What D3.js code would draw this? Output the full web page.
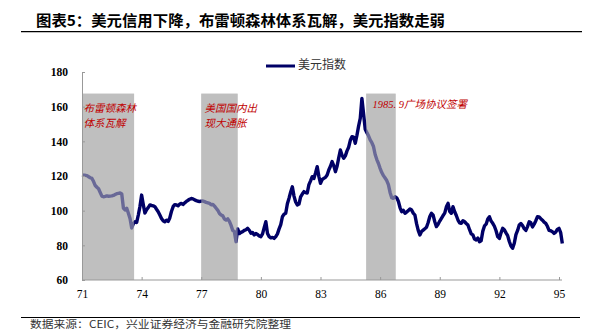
<!DOCTYPE html>
<html><head><meta charset="utf-8">
<script src="https://cdn.jsdelivr.net/npm/d3@7"></script>
<style>
html,body{margin:0;padding:0;background:#fff;}
svg{display:block;}
</style></head>
<body>
<svg id="c" width="613" height="333"></svg>
<script>
// ---- data ----
const title = "图表5：美元信用下降，布雷顿森林体系瓦解，美元指数走弱";
const source = "数据来源：CEIC，兴业证券经济与金融研究院整理";
const seriesName = "美元指数";
const years = [1971,1972,1973,1974,1975,1976,1977,1978,1979,1980,1981,1982,1983,1984,1985,1986,1987,1988,1989,1990,1991,1992,1993,1994,1995];
// monthly values, one row per year
const dxy = [
  [120.6,120.5,120.4,120.2,119.6,119.0,118.6,116.8,114.5,113.5,112.6,110.5],
  [108.4,108.0,108.2,108.5,108.3,108.4,108.5,108.8,109.3,109.8,110.0,110.2],
  [109.6,101.5,100.4,101.4,98.5,95.5,90.0,92.5,93.6,93.2,97.5,102.5],
  [109.0,103.5,98.6,100.5,101.8,103.3,103.0,102.8,102.3,100.8,99.4,97.5],
  [95.5,94.2,93.6,94.5,93.8,95.8,99.5,102.3,103.5,103.3,102.8,103.8],
  [104.2,103.6,104.5,105.3,106.0,106.6,107.0,106.8,106.2,105.8,105.4,105.3],
  [105.5,105.6,105.2,104.8,104.5,104.2,103.4,103.6,102.6,101.4,100.2,98.4],
  [97.5,97.0,95.2,94.6,95.3,93.8,91.5,88.6,87.9,82.1,89.5,86.8],
  [87.5,87.9,88.6,89.0,89.8,88.7,87.0,87.4,86.0,86.8,86.3,85.4],
  [85.0,86.6,90.2,93.6,86.8,85.0,84.3,84.6,84.0,85.0,86.6,89.5],
  [92.0,96.5,98.0,98.5,104.0,107.2,110.8,113.8,108.4,105.0,103.3,103.8],
  [108.0,109.6,111.0,110.4,110.2,115.0,117.2,119.6,118.6,121.8,125.4,119.8],
  [115.8,118.0,118.6,119.2,120.6,123.5,125.6,128.3,126.0,122.5,125.6,130.5],
  [135.0,132.0,130.2,131.6,134.5,136.6,140.6,142.7,142.4,138.9,143.5,148.8],
  [153.3,164.8,156.0,147.0,145.0,143.2,140.8,139.2,137.0,132.4,129.5,127.2],
  [124.4,122.0,120.2,118.8,117.4,115.0,110.5,107.5,107.1,108.0,107.4,105.4],
  [101.8,99.4,100.2,98.5,99.2,100.0,101.0,100.4,98.6,97.5,92.5,88.6],
  [86.0,88.0,88.8,89.6,90.4,93.2,96.6,98.5,97.4,93.6,90.8,92.2],
  [94.0,95.6,97.2,98.6,102.2,104.2,99.6,98.5,102.3,99.4,97.2,94.6],
  [93.0,92.7,94.2,93.6,92.6,91.7,89.0,86.6,86.0,83.6,83.1,84.2],
  [82.1,82.6,88.2,91.2,92.2,95.2,96.5,94.0,92.7,91.0,88.4,85.0],
  [84.0,87.2,89.8,89.0,87.2,85.6,82.2,79.6,78.3,81.2,86.2,88.6],
  [91.7,92.6,91.4,89.6,88.6,90.8,93.6,93.0,90.6,92.2,94.2,96.5],
  [96.4,95.4,94.5,93.4,92.7,91.0,88.6,88.4,87.9,86.9,87.6,89.2],
  [89.8,87.4,81.1]
];
const shadeStart = [1971.0, 1977.0, 1985.3];
const shadeEnd   = [1973.62, 1978.83, 1986.78];
const shadeTop = 167.5;
const noteLines = [["布雷顿森林","体系瓦解"],["美国国内出","现大通胀"],["1985. 9广场协议签署"]];
const xTickValues = [1971,1974,1977,1980,1983,1986,1989,1992,1995];
const xTickLabels = ["71","74","77","80","83","86","89","92","95"];
const yTickValues = [60,80,100,120,140,160,180];

// ---- build ----
const points = [];
years.forEach((yr, i) => dxy[i].forEach((v, m) => points.push({t: yr + m/12, v})));

const svg = d3.select("#c");
const x = d3.scaleLinear().domain([1971, 1995]).range([82, 559]);
const y = d3.scaleLinear().domain([60, 180]).range([280, 72]);

// title
svg.append("text").attr("x", 36).attr("y", 25.5)
  .attr("font-family", "'Noto Sans CJK SC'").attr("font-weight", "bold")
  .attr("font-size", 15).attr("fill", "#000")
  .attr("textLength", 409).attr("lengthAdjust", "spacingAndGlyphs").text(title);
svg.append("line").attr("x1", 21).attr("x2", 582).attr("y1", 31.7).attr("y2", 31.7)
  .attr("stroke", "#000").attr("stroke-width", 1.3);

// shades (base)
const shades = shadeStart.map((s, i) => ({s, e: shadeEnd[i]}));
svg.append("g").selectAll("rect").data(shades).join("rect")
  .attr("x", d => x(d.s)).attr("width", d => x(d.e) - x(d.s))
  .attr("y", y(shadeTop)).attr("height", y(60) - y(shadeTop))
  .attr("fill", "#bfbfbf");

// line
const line = d3.line().x(d => x(d.t)).y(d => y(d.v)).curve(d3.curveLinear);
svg.append("path").datum(points).attr("d", line)
  .attr("fill", "none").attr("stroke", "#000066").attr("stroke-width", 3.4)
  .attr("stroke-linejoin", "round");

// shades overlay (makes line pale inside)
svg.append("g").selectAll("rect").data(shades).join("rect")
  .attr("x", d => x(d.s)).attr("width", d => x(d.e) - x(d.s))
  .attr("y", y(shadeTop)).attr("height", y(60) - y(shadeTop))
  .attr("fill", "#bfbfbf").attr("opacity", 0.55);

// axes
const yAxis = d3.axisLeft(y).tickValues(yTickValues).tickSizeInner(-3).tickSizeOuter(0).tickPadding(14);
const gy = svg.append("g").attr("transform", "translate(82,0)").call(yAxis);
gy.selectAll("text").attr("font-family", "'Liberation Serif'").attr("font-weight", "bold")
  .attr("font-size", 11.5).attr("fill", "#000");
const xAxis = d3.axisBottom(x).tickValues(xTickValues).tickFormat((d, i) => xTickLabels[i])
  .tickSizeInner(-3).tickSizeOuter(0).tickPadding(10);
const gx = svg.append("g").attr("transform", "translate(0,280)").call(xAxis);
gx.selectAll("text").attr("font-family", "'Liberation Serif'").attr("font-size", 11.5).attr("fill", "#000");
gx.select(".domain").attr("d", "M82,0H562");
[gx, gy].forEach(g => { g.selectAll("line,path").attr("stroke", "#999").attr("stroke-width", 1); });

// annotations
const notePos = [[83.5, 109.5], [204.5, 109.5], [372.5, 105.5]];
noteLines.forEach((lines, i) => {
  const t = svg.append("text").attr("x", notePos[i][0]).attr("y", notePos[i][1])
    .attr("font-family", "'Liberation Serif','Noto Sans CJK SC'").attr("font-style", "italic")
    .attr("font-size", 10.5).attr("fill", "#c00000").attr("dominant-baseline", "middle");
  lines.forEach((l, j) => t.append("tspan").attr("x", notePos[i][0]).attr("dy", j === 0 ? 0 : 15).text(l));
});

// legend
svg.append("line").attr("x1", 266).attr("x2", 295).attr("y1", 66).attr("y2", 66)
  .attr("stroke", "#000066").attr("stroke-width", 3);
svg.append("text").attr("x", 298).attr("y", 66).attr("dominant-baseline", "middle")
  .attr("font-family", "'Noto Sans CJK SC'").attr("font-size", 12).attr("fill", "#333").text(seriesName);

// footer
svg.append("line").attr("x1", 21).attr("x2", 580).attr("y1", 317.5).attr("y2", 317.5)
  .attr("stroke", "#000").attr("stroke-width", 1.2);
svg.append("text").attr("x", 30).attr("y", 325.5).attr("dominant-baseline", "middle")
  .attr("font-family", "'Noto Sans CJK SC'").attr("font-size", 10.5).attr("fill", "#333")
  .attr("textLength", 261).attr("lengthAdjust", "spacingAndGlyphs").text(source);
</script>
</body></html>
